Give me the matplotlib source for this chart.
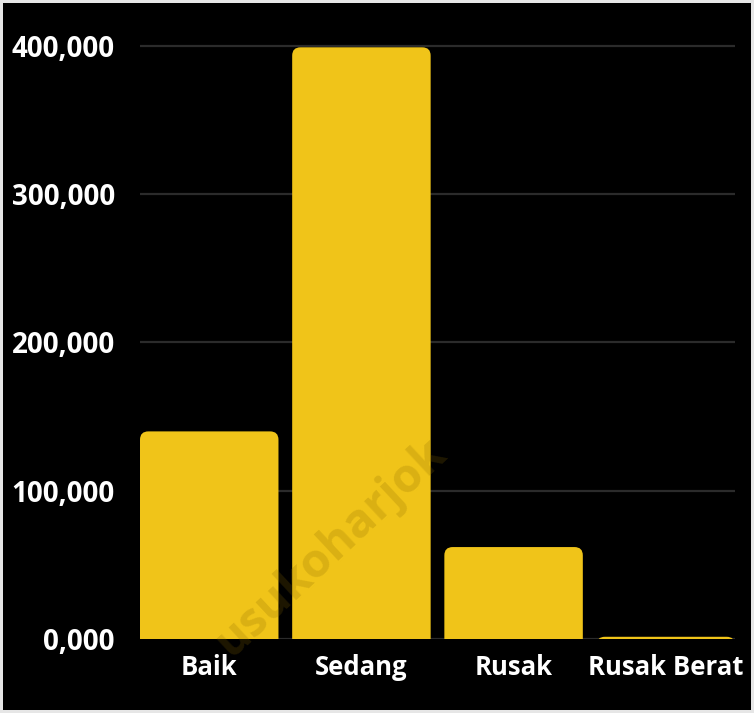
import matplotlib.pyplot as plt
from matplotlib.patches import FancyBboxPatch
from matplotlib.ticker import FuncFormatter

# data
categories = ["Baik", "Sedang", "Rusak", "Rusak Berat"]
values = [140000, 399000, 62000, 1500]
y_ticks = [0, 100000, 200000, 300000, 400000]

bar_color = "#F0C419"
font = "Open Sans"

fig = plt.figure(figsize=(7.54, 7.13), dpi=100)
fig.patch.set_facecolor("black")
fig.patch.set_edgecolor("#e6e6e6")
fig.patch.set_linewidth(3)

ax = fig.add_axes([140 / 754, 1 - 639 / 713, 595 / 754, 608 / 713])
ax.set_facecolor("black")

bars = ax.bar(range(len(categories)), values, width=0.91, color=bar_color, zorder=2)

# replace the plain bars by ones with rounded top corners
r_x = 0.055
r_y = 5600
for b in bars:
    x0, w, h = b.get_x(), b.get_width(), b.get_height()
    b.set_visible(False)
    p = FancyBboxPatch((x0, -r_y), w, h + r_y,
                       boxstyle=f"round,pad=0,rounding_size={r_x}",
                       mutation_aspect=r_y / r_x,
                       facecolor=bar_color, edgecolor="none", zorder=2)
    ax.add_patch(p)

ax.set_xlim(-0.455, 3.455)
ax.set_ylim(0, 410000)
ax.set_yticks(y_ticks)
ax.yaxis.set_major_formatter(FuncFormatter(lambda v, _: "0,000" if v == 0 else f"{int(v):,}"))
ax.set_xticks(range(len(categories)))
ax.set_xticklabels(categories)

for t in ax.get_yticklabels():
    t.set_fontfamily(font)
    t.set_fontweight("bold")
    t.set_fontsize(20)
    t.set_color("white")
for t in ax.get_xticklabels():
    t.set_fontfamily(font)
    t.set_fontweight("bold")
    t.set_fontsize(18.5)
    t.set_color("white")

ax.tick_params(axis="y", length=0, pad=18)
ax.tick_params(axis="x", length=0, pad=11)

ax.grid(axis="y", color="#2b2b2b", linewidth=1.6, zorder=0)
ax.axhline(0, color="#bdbdbd", linewidth=1.0, zorder=1)
for s in ax.spines.values():
    s.set_visible(False)

# watermark
ax.text(0.8, 62000, "usukoharjok", rotation=43, ha="center", va="center",
        fontsize=34, fontweight="bold", fontfamily=font,
        color="#8a6a00", alpha=0.22, zorder=3)

fig.savefig("out.png", dpi=100, facecolor=fig.get_facecolor(), edgecolor=fig.get_edgecolor())
